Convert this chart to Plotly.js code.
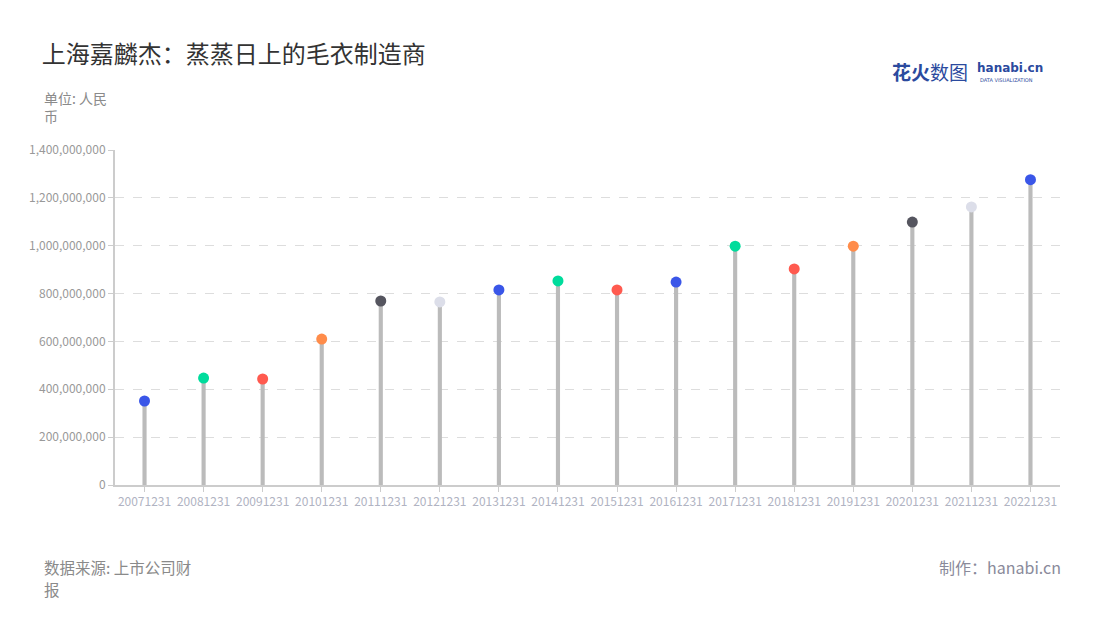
<!DOCTYPE html>
<html>
<head>
<meta charset="utf-8">
<script src="https://cdn.plot.ly/plotly-3.0.1.min.js"></script>
<style>html,body{margin:0;padding:0;background:#fff;}#chart{width:1100px;height:620px;}</style>
</head>
<body>
<div id="chart"></div>
<script>
const categories = ["20071231","20081231","20091231","20101231","20111231","20121231","20131231","20141231","20151231","20161231","20171231","20181231","20191231","20201231","20211231","20221231"];
const values = [351000000,447000000,443000000,610000000,769000000,765000000,815000000,853000000,815000000,848000000,998000000,903000000,998000000,1099000000,1162000000,1276000000];
const dotColors = ["#3a56e8","#00dc9c","#ff5a4f","#ff8c4a","#55555f","#dcdee9","#3a56e8","#00dc9c","#ff5a4f","#3a56e8","#00dc9c","#ff5a4f","#ff8c4a","#55555f","#dcdee9","#3a56e8"];
const yTicks = [0,200000000,400000000,600000000,800000000,1000000000,1200000000,1400000000];

const FONT = "'Noto Sans CJK SC', 'Noto Sans', sans-serif";

const traces = [
  {type:"bar", x:categories, y:values, width:0.07, marker:{color:"#bbbbbb"}, hoverinfo:"skip", showlegend:false},
  {type:"scatter", mode:"markers", x:categories, y:values, marker:{color:dotColors, size:11}, showlegend:false}
];

const layout = {
  width:1100, height:620,
  margin:{l:115, r:40, t:150, b:135},
  paper_bgcolor:"#ffffff", plot_bgcolor:"#ffffff",
  font:{family:FONT},
  title:{text:"上海嘉麟杰：蒸蒸日上的毛衣制造商", x:0.038, xanchor:"left", y:0.912, yanchor:"middle", font:{size:24, color:"#333333", family:FONT}},
  xaxis:{type:"category", range:[-0.5, categories.length-0.5], showline:true, linecolor:"#cccccc", linewidth:2, ticks:"outside", ticklen:5, tickcolor:"#cccccc", showgrid:false,
         tickfont:{size:12, color:"#b0b3c2", family:FONT}, tickangle:0, fixedrange:true},
  yaxis:{range:[0,1400000000], tickvals:yTicks, tickformat:",d", showline:true, linecolor:"#cccccc", linewidth:2, ticks:"outside", ticklen:5, tickcolor:"#cccccc",
         showgrid:true, gridcolor:"#dddddd", griddash:"dash", gridwidth:1, zeroline:false,
         tickfont:{size:12, color:"#999999", family:FONT}, fixedrange:true},
  annotations:[
    {text:"单位: 人民<br>币", xref:"paper", yref:"paper", x:-0.077, y:1.192, xanchor:"left", yanchor:"top", align:"left", showarrow:false, font:{size:14, color:"#8a8a8a", family:FONT}},
    {text:"数据来源: 上市公司财", xref:"paper", yref:"paper", x:-0.077, y:-0.246, xanchor:"left", yanchor:"middle", align:"left", showarrow:false, font:{size:15.5, color:"#8a8a8a", family:FONT}},
    {text:"报", xref:"paper", yref:"paper", x:-0.077, y:-0.31, xanchor:"left", yanchor:"middle", align:"left", showarrow:false, font:{size:15.5, color:"#8a8a8a", family:FONT}},
    {text:"制作：hanabi.cn", xref:"paper", yref:"paper", x:1.003, y:-0.246, xanchor:"right", yanchor:"middle", align:"right", showarrow:false, font:{size:16, color:"#8a8a9a", family:FONT}},
    {text:"<b>花火</b>数图", xref:"paper", yref:"paper", x:0.82, y:1.233, xanchor:"left", yanchor:"middle", showarrow:false, font:{size:19, color:"#2b4a9e", family:FONT}},
    {text:"<b>hanabi.cn</b>", xref:"paper", yref:"paper", x:0.91, y:1.245, xanchor:"left", yanchor:"middle", showarrow:false, font:{size:12, color:"#2b4a9e", family:"'DejaVu Sans', sans-serif"}},
    {text:"DATA VISUALIZATION", xref:"paper", yref:"paper", x:0.913, y:1.21, xanchor:"left", yanchor:"middle", showarrow:false, font:{size:5, color:"#2b4a9e", family:"'DejaVu Sans', sans-serif"}}
  ]
};

Plotly.newPlot("chart", traces, layout, {displayModeBar:false, staticPlot:true});
</script>
</body>
</html>
